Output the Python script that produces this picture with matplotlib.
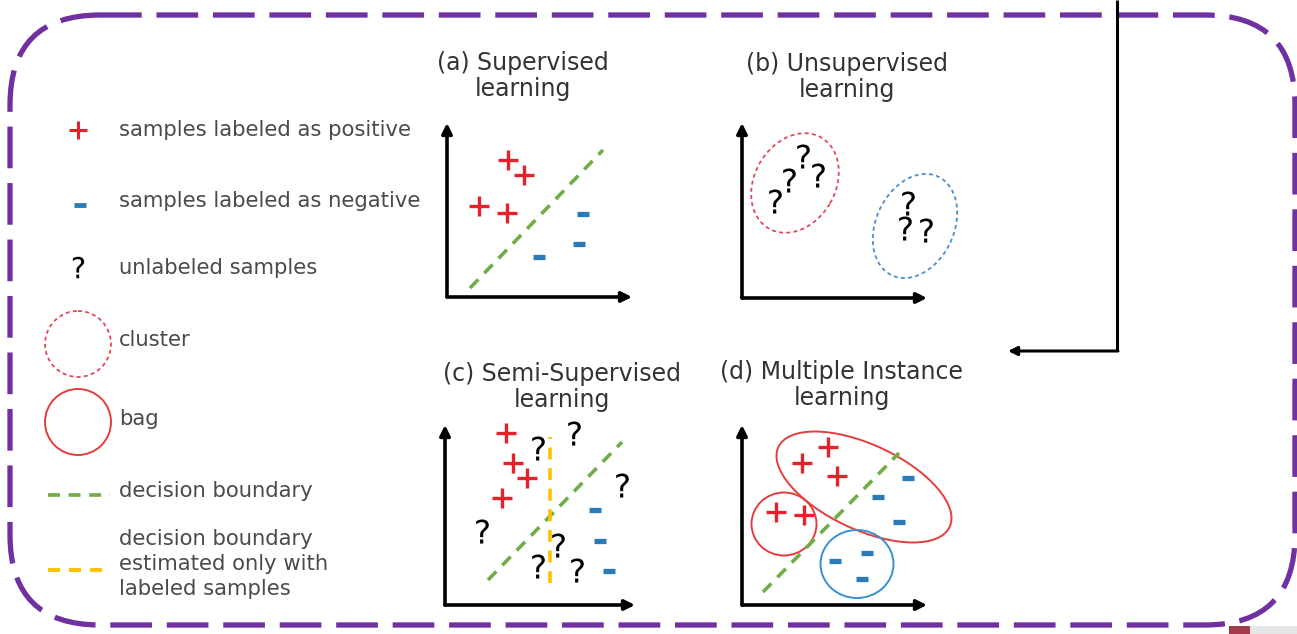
import numpy as np
import matplotlib.pyplot as plt
from matplotlib.patches import Ellipse, Circle, Rectangle, FancyBboxPatch

plt.rcParams['font.family'] = ['DejaVu Sans']

# colours
RED = '#e8202a'
BLUE = '#2a7ab8'
GREEN = '#70ad47'
YELLOW = '#ffc000'
PURPLE = '#7030a0'
TXT = '#4a4a4a'

# panel titles, title centres and axis corners (figure pixels)
titles = ['(a) Supervised\nlearning', '(b) Unsupervised\nlearning',
          '(c) Semi-Supervised\nlearning', '(d) Multiple Instance\nlearning']
title_xy = [(523, 76), (847, 77), (562, 387), (842, 385)]
origins = [(447, 297), (742, 298), (445, 605), (742, 605)]
axis_len = [(185, 174), (185, 175), (190, 180), (185, 180)]

# (a) supervised learning, local units (x right, y up)
a_pos = np.array([[61, 137], [77, 122], [32, 91], [60, 84]])
a_neg = np.array([[136, 83], [132, 53], [92, 40]])
a_bound = np.array([[23, 9], [156, 147]])

# (b) unsupervised learning
b_unl = np.array([[33, 97], [47, 118], [61, 142], [76, 123],
                  [166, 95], [163, 70], [184, 68]])
b_cluster_xy = [(53, 115), (173, 72)]
b_cluster_wh = [(105, 81), (109, 78)]
b_cluster_ang = [60, 65]
b_cluster_col = ['#e2495a', '#4a8fd0']

# (c) semi-supervised learning
c_pos = np.array([[61, 172], [68, 142], [82, 127], [57, 107]])
c_neg = np.array([[150, 95], [155, 64], [164, 34]])
c_unl = np.array([[93, 157], [129, 172], [177, 120], [37, 74],
                  [113, 60], [93, 39], [132, 35]])
c_bound = np.array([[43, 25], [177, 163]])
c_bound_lab = np.array([[105, 22], [105, 168]])

# (d) multiple instance learning
d_pos = np.array([[86, 158], [60, 142], [95, 129], [34, 93], [62, 90]])
d_neg = np.array([[166, 127], [136, 108], [157, 83], [93, 44], [125, 52], [120, 26]])
d_bound = np.array([[21, 13], [157, 152]])
d_bag_xy = [(122, 118), (42, 81), (115, 41)]
d_bag_wh = [(189, 85), (65, 63), (73, 68)]
d_bag_ang = [-25, 0, 0]
d_bag_col = ['#e53c3c', '#e53c3c', '#3a8fd0']

# legend entries
legend_text = ['samples labeled as positive', 'samples labeled as negative',
               'unlabeled samples', 'cluster', 'bag', 'decision boundary',
               'decision boundary\nestimated only with\nlabeled samples']
legend_y = [130, 201, 268, 340, 419, 491, 564]

fig = plt.figure(figsize=(12.97, 6.34), dpi=100)
bg = fig.add_axes([0, 0, 1, 1])
bg.set_xlim(0, 1297)
bg.set_ylim(634, 0)
bg.axis('off')

# dashed rounded frame
frame = FancyBboxPatch((10, 15), 1285, 610, boxstyle='round,pad=0,rounding_size=90',
                       fill=False, ec=PURPLE, lw=3.8, linestyle=(0, (7.9, 2.8)))
bg.add_patch(frame)

# arrow coming in from the top
bg.plot([1117, 1117], [0, 351], color='k', lw=2.2, solid_capstyle='butt')
bg.annotate('', xy=(1008, 351), xytext=(1118, 351),
            arrowprops=dict(arrowstyle='-|>', color='k', lw=2.2, mutation_scale=13,
                            shrinkA=0, shrinkB=0))

# stray corner artefact
bg.add_patch(Rectangle((1229, 626), 21, 8, color='#a33a4a', lw=0))
bg.add_patch(Rectangle((1250, 626), 47, 8, color='#e6e6e6', lw=0))

# legend
for t, y in zip(legend_text, legend_y):
    bg.text(119, y, t, fontsize=15.2, color=TXT, va='center', ha='left', linespacing=1.3)
bg.scatter([78], [130], marker='+', s=150, color=RED, linewidths=2.2)
bg.scatter([80], [205], marker='_', s=70, color=BLUE, linewidths=3.5)
bg.scatter([78], [267], marker='$?$', s=240, color='k', linewidths=0)
bg.add_patch(Circle((78, 344), 33, fill=False, ec='#e2495a', lw=1.3, linestyle=(0, (2.2, 1.8))))
bg.add_patch(Circle((78, 422), 33, fill=False, ec='#e53c3c', lw=1.4))
bg.plot([48, 110], [495, 495], color=GREEN, lw=2.6, linestyle=(0, (3.3, 2.4)))
bg.plot([48, 110], [570, 570], color=YELLOW, lw=2.8, linestyle=(0, (3.1, 2.3)))

# panel titles
for t, (x, y) in zip(titles, title_xy):
    bg.text(x, y, t, fontsize=17, color='#333333', ha='center', va='center', linespacing=1.12)


def panel(i):
    ox, oy = origins[i]
    ax = fig.add_axes([(ox - 20) / 1297, (634 - oy - 20) / 634, 240 / 1297, 220 / 634])
    ax.set_xlim(-20, 220)
    ax.set_ylim(-20, 200)
    ax.axis('off')
    w, h = axis_len[i]
    for end in [(w, 0), (0, h)]:
        ax.annotate('', xy=end, xytext=(0, 0),
                    arrowprops=dict(arrowstyle='-|>', color='k', lw=2.6, mutation_scale=15,
                                    shrinkA=0, shrinkB=0))
    return ax


def plus(ax, pts):
    ax.scatter(pts[:, 0], pts[:, 1], marker='+', s=190, color=RED, linewidths=2.4, clip_on=False)


def minus(ax, pts):
    ax.scatter(pts[:, 0], pts[:, 1], marker='_', s=75, color=BLUE, linewidths=3.8, clip_on=False)


def quest(ax, pts):
    ax.scatter(pts[:, 0], pts[:, 1], marker='$?$', s=300, color='k', linewidths=0, clip_on=False)


def boundary(ax, pts, col):
    ax.plot(pts[:, 0], pts[:, 1], color=col, lw=2.6, linestyle=(0, (3.3, 2.4)), clip_on=False)


ax = panel(0)
boundary(ax, a_bound, GREEN)
plus(ax, a_pos)
minus(ax, a_neg)

ax = panel(1)
for xy, wh, ang, col in zip(b_cluster_xy, b_cluster_wh, b_cluster_ang, b_cluster_col):
    ax.add_patch(Ellipse(xy, wh[0], wh[1], angle=ang, fill=False, ec=col, lw=1.3,
                         linestyle=(0, (2.2, 1.8)), clip_on=False))
quest(ax, b_unl)

ax = panel(2)
boundary(ax, c_bound, GREEN)
boundary(ax, c_bound_lab, YELLOW)
plus(ax, c_pos)
minus(ax, c_neg)
quest(ax, c_unl)

ax = panel(3)
boundary(ax, d_bound, GREEN)
for xy, wh, ang, col in zip(d_bag_xy, d_bag_wh, d_bag_ang, d_bag_col):
    ax.add_patch(Ellipse(xy, wh[0], wh[1], angle=ang, fill=False, ec=col, lw=1.4, clip_on=False))
plus(ax, d_pos)
minus(ax, d_neg)

fig.savefig('out.png', dpi=100, facecolor='white')
